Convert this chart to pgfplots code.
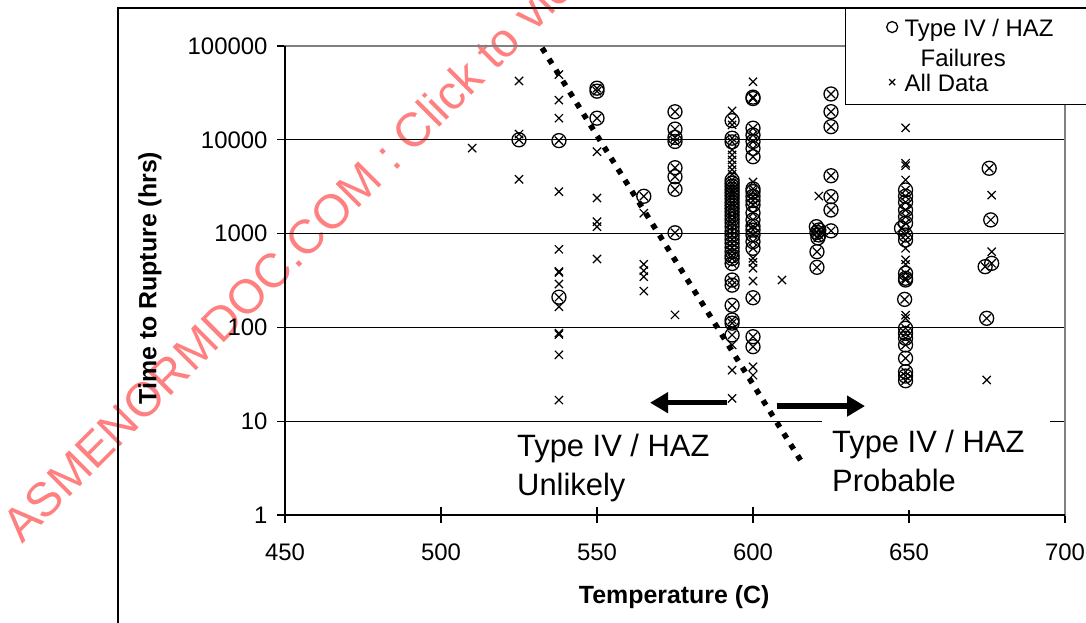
\documentclass[border=0pt]{standalone}
\usepackage{pgfplots}
\pgfplotsset{compat=1.18}
\usepackage{pgfplotstable}
\usepackage{fontspec}
\setmainfont{Liberation Sans}
\usetikzlibrary{arrows.meta}
\definecolor{wm}{RGB}{255,128,128}
\definecolor{bordergray}{RGB}{128,128,128}

\pgfplotstableread{
T t
525 10000
537.8 9800
537.8 210
550 35500
550 33000
550 17000
565 2500
575 19900
575 13000
575 10600
575 9600
575 5040
575 4040
575 2965
575 1020
593.3 16000
593.3 10400
593.3 9500
593.3 3730
593.3 3440
593.3 3200
593.3 2950
593.3 2750
593.3 2550
593.3 2350
593.3 2150
593.3 2000
593.3 1850
593.3 1700
593.3 1550
593.3 1420
593.3 1300
593.3 1180
593.3 1060
593.3 960
593.3 870
593.3 790
593.3 710
593.3 640
593.3 580
593.3 540
593.3 480
593.3 320
593.3 282
593.3 172
593.3 120
593.3 111
593.3 83
600 28500
600 27500
600 13300
600 11250
600 9600
600 8100
600 6600
600 3000
600 2800
600 2500
600 2250
600 2020
600 1660
600 1400
600 1200
600 1090
600 966
600 821
600 697
600 207
600 79.6
600 62.3
620.3 1185
621.1 1092
620.5 1030
621.1 966
620.8 900
620.5 641
620.5 437
625 30800
625 19950
625 13800
625 4140
625 2475
625 1785
625 1070
648.9 2920
648.9 2500
648.9 2157
648.9 1785
648.9 1515
648.9 1290
647.6 1140
648.9 966
648.9 855
648.9 378
648.9 334
648.9 320
648.6 199
648.9 98
648.9 86.5
648.9 76.5
648.9 65
648.9 46.9
648.9 33.7
648.9 30.3
648.9 27
675.7 4970
676.2 1400
674.4 444
676.5 482
674.9 125
}\failures

\pgfplotstableread{
T t
510 8150
525 42400
525 11500
525 3790
537.8 49500
537.8 26500
537.8 17000
537.8 2800
537.8 680
537.8 395
537.8 385
537.8 290
537.8 166
537.8 87
537.8 84
537.8 51
537.8 16.8
550 7470
550 2396
550 1340
550 1185
550 536
565 1650
565 471
565 402
565 347
565 244
575 136
593.3 20300
593.3 14400
593.3 7800
593.3 6900
593.3 6100
593.3 5400
593.3 4800
593.3 4300
593.3 65
593.3 35
593.3 17.5
600 41600
600 3550
600 545
600 494
600 427
600 312
600 38
600 31
609.3 320
621.1 2515
648.9 13400
648.9 5620
648.9 5300
648.9 3730
648.9 697
648.9 525
648.9 470
648.9 135
648.9 125
676.5 2570
676.5 641
674.9 27.5
}\crosses

\pgfplotstableread{
T t
532.4 95300
615.4 3.76
}\boundary

\begin{document}
\begin{tikzpicture}
\useasboundingbox (0,0) rectangle (1086bp,623bp);
% watermark
\begin{scope}
\clip (0,0) rectangle (1086bp,623bp);
\node[rotate=45, anchor=base west, text=wm, inner sep=0pt,
  font=\fontsize{48}{48}\selectfont] at (22bp,78bp)
  {ASMENORMDOC.COM : Click to view the full PDF of ASME};
\end{scope}
% outer frame
\draw[black, line width=2bp] (118bp,-5bp) -- (118bp,615bp) -- (1095bp,615bp);

\begin{axis}[
  at={(285bp,108bp)}, anchor=south west,
  scale only axis, width=780bp, height=469bp,
  clip=false,
  xmin=450, xmax=700,
  ymode=log, ymin=1, ymax=100000,
  xtick={450,500,550,600,650,700},
  xticklabels={450,500,550,600,650,700},
  ytick={1,10,100,1000,10000,100000},
  yticklabels={1,10,100,1000,10000,100000},
  yminorticks=false,
  xtick pos=bottom, ytick pos=left,
  tick align=center, major tick length=16bp,
  every tick/.style={black, line width=1.3bp},
  ymajorgrids, major grid style={black, line width=1.3bp},
  axis line style={bordergray, line width=1.6bp},
  tick label style={font=\fontsize{24}{24}\selectfont},
  xticklabel style={yshift=-17bp},
  yticklabel style={xshift=-6bp},
  xlabel={Temperature (C)},
  ylabel={Time to Rupture (hrs)},
  xlabel style={font=\bfseries\fontsize{25}{25}\selectfont, at={(axis description cs:0.499,-0.175)}, anchor=center},
  ylabel style={font=\bfseries\fontsize{25}{25}\selectfont, at={(axis description cs:-0.173,0.505)}, anchor=center},
  legend cell align=left,
  legend style={at={(axis description cs:0.718,1.081)}, anchor=north west,
    draw=black, line width=1.3bp, fill=white,
    font=\fontsize{24}{30}\selectfont,
    inner xsep=41bp, inner ysep=11bp, row sep=36bp, column sep=5bp,
    nodes={inner xsep=2bp, inner ysep=0bp}},
]
\addplot[only marks, mark=o, mark size=7bp, black, mark options={line width=1.3bp},
  legend image post style={mark size=5.5bp, yshift=2bp}] table[x=T,y=t]{\failures};
\addlegendentry{\makebox[0pt][l]{\raisebox{-30bp}[0pt][0pt]{\hspace{16bp}Failures}}Type IV / HAZ}
\addplot[only marks, mark=x, mark size=5.8bp, black, mark options={line width=1.2bp},
  legend image post style={mark size=4.2bp, yshift=1.75bp}] table[x=T,y=t]{\crosses};
\addlegendentry{All Data\rule[-3.5bp]{0pt}{0pt}}
\addplot[only marks, mark=x, mark size=5.8bp, black, mark options={line width=1.2bp}, forget plot] table[x=T,y=t]{\failures};
\addplot[black, line width=5.5bp, dash pattern=on 5.5bp off 7.5bp, forget plot] table[x=T,y=t]{\boundary};
\draw[black, line width=1.6bp] (rel axis cs:0,1) -- (rel axis cs:0,0) -- (rel axis cs:1,0);
\draw[black, line width=5.5bp, -{Triangle[length=18bp,width=20bp]}] (axis cs:591.6,15.75) -- (axis cs:567.0,15.75);
\draw[black, line width=5.5bp, -{Triangle[length=18bp,width=20bp]}] (axis cs:607.6,14.5) -- (axis cs:635.9,14.5);
\end{axis}

% annotation boxes
\fill[white] (822bp,113bp) rectangle (1050bp,206bp);
\node[anchor=base west, inner sep=0pt, font=\fontsize{31}{31}\selectfont] at (517bp,166.5bp) {Type IV / HAZ};
\node[anchor=base west, inner sep=0pt, font=\fontsize{31}{31}\selectfont] at (517bp,127.5bp) {Unlikely};
\node[anchor=base west, inner sep=0pt, font=\fontsize{31}{31}\selectfont] at (832bp,170bp) {Type IV / HAZ};
\node[anchor=base west, inner sep=0pt, font=\fontsize{31}{31}\selectfont] at (832bp,131bp) {Probable};
\end{tikzpicture}
\end{document}
